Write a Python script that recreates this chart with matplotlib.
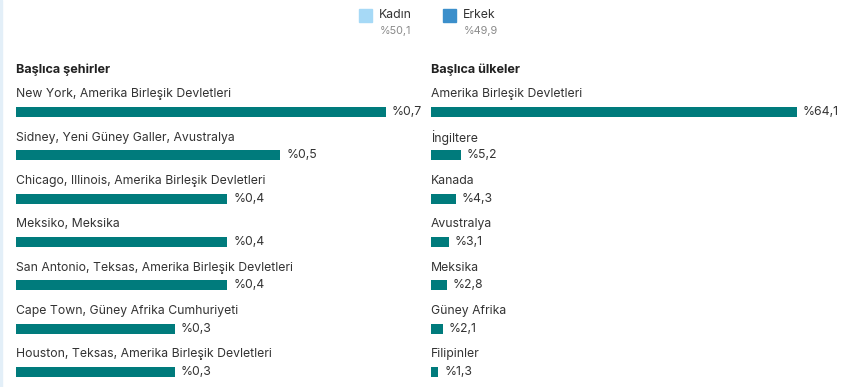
import matplotlib.pyplot as plt
from matplotlib.patches import Rectangle

plt.rcParams['font.family'] = ['Inter', 'DejaVu Sans']

gender_labels = ["Kadın", "Erkek"]
gender_share = ["%50,1", "%49,9"]
gender_colors = ["#a6d9f6", "#3b8fcb"]

cities = [
    "New York, Amerika Birleşik Devletleri",
    "Sidney, Yeni Güney Galler, Avustralya",
    "Chicago, Illinois, Amerika Birleşik Devletleri",
    "Meksiko, Meksika",
    "San Antonio, Teksas, Amerika Birleşik Devletleri",
    "Cape Town, Güney Afrika Cumhuriyeti",
    "Houston, Teksas, Amerika Birleşik Devletleri",
]
city_share = [0.7, 0.5, 0.4, 0.4, 0.4, 0.3, 0.3]

countries = [
    "Amerika Birleşik Devletleri",
    "İngiltere",
    "Kanada",
    "Avustralya",
    "Meksika",
    "Güney Afrika",
    "Filipinler",
]
country_share = [64.1, 5.2, 4.3, 3.1, 2.8, 2.1, 1.3]

W, H = 853, 387
BAR = "#007b7c"
TXT = "#333333"
PITCH = 43.3      # px between rows
Y0 = 112          # px of first bar centre

fig = plt.figure(figsize=(W / 100, H / 100), dpi=100)
fig.patches.append(Rectangle((0, 0), 2 / W, 1, transform=fig.transFigure,
                             color="#e3eff8", zorder=0))


def fmt(v):
    return "%" + f"{v:.1f}".replace(".", ",")


def panel(x_px, width_px, title, names, vals):
    top_px, bot_px = 58, H
    ax = fig.add_axes([x_px / W, 1 - bot_px / H, width_px / W, (bot_px - top_px) / H])
    ax.set_xlim(0, max(vals))
    ax.set_ylim((bot_px - Y0) / PITCH, (top_px - Y0) / PITCH)
    ax.axis("off")
    ys = range(len(vals))
    ax.barh(ys, vals, height=10 / PITCH, color=BAR, edgecolor="none")
    ax.text(0, (70 - Y0) / PITCH, title, fontsize=9.1, fontweight="bold",
            color="#222222", va="center", ha="left")
    for y, n, v in zip(ys, names, vals):
        ax.text(0, y - 17.5 / PITCH, n, fontsize=8.8, color=TXT,
                va="center", ha="left", clip_on=False)
        ax.annotate(fmt(v), (v, y), xytext=(4.3, 0), textcoords="offset points",
                    fontsize=8.8, color=TXT, va="center", ha="left")


panel(16, 370, "Başlıca şehirler", cities, city_share)
panel(431, 366, "Başlıca ülkeler", countries, country_share)

# gender legend
for i, (lab, sh, c) in enumerate(zip(gender_labels, gender_share, gender_colors)):
    x = 359 + i * 84
    fig.patches.append(Rectangle((x / W, 1 - 22 / H), 13 / W, 13 / H,
                                 transform=fig.transFigure, color=c))
    fig.text((x + 20) / W, 1 - 15 / H, lab, fontsize=8.8, color=TXT,
             va="center", ha="left")
    fig.text((x + 21) / W, 1 - 31 / H, sh, fontsize=7.8, color="#8a8a8a",
             va="center", ha="left")

fig.savefig("out.png", dpi=100)
